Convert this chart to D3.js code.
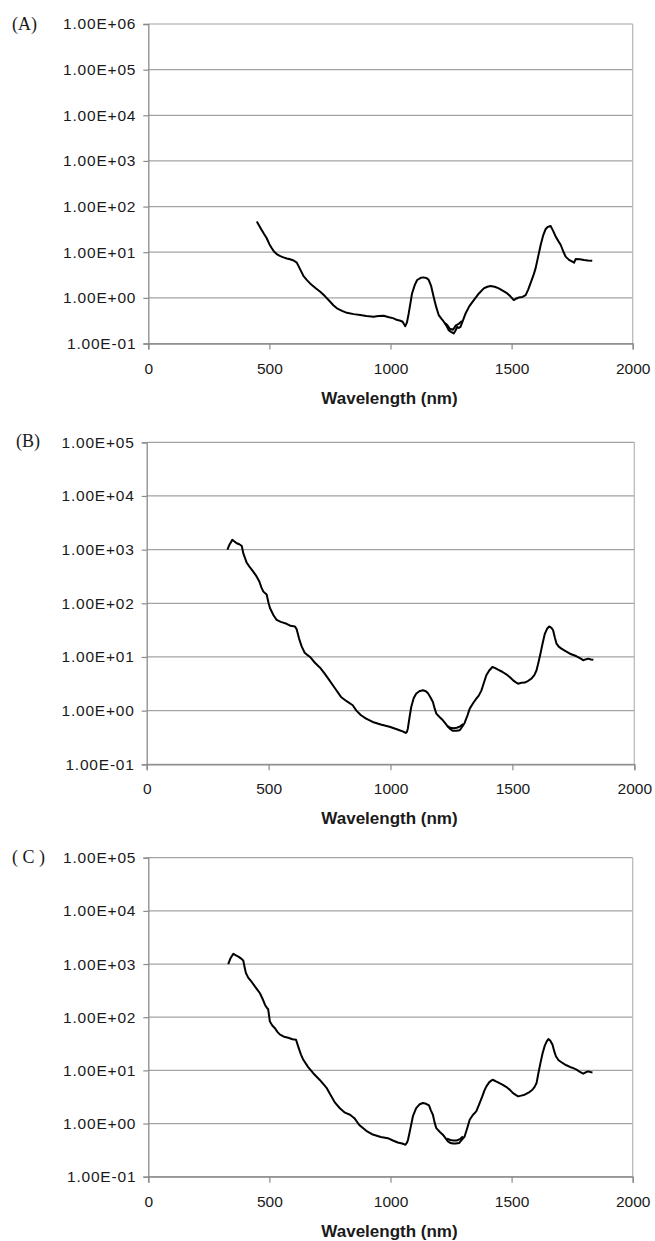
<!DOCTYPE html>
<html>
<head>
<meta charset="utf-8">
<script src="https://cdn.jsdelivr.net/npm/d3@7"></script>
<style>
  body { margin: 0; background: #fff; }
  svg { display: block; }
</style>
</head>
<body>
<svg id="chart"></svg>
<script>
// spectra: wavelength (nm) and value (log axis)
const xTicks = [0, 500, 1000, 1500, 2000];
const yTicksA = [1e-1, 1e0, 1e1, 1e2, 1e3, 1e4, 1e5, 1e6];
const yTicksBC = [1e-1, 1e0, 1e1, 1e2, 1e3, 1e4, 1e5];
const panelLabels = ["(A)", "(B)", "( C )"];
const axisTitle = "Wavelength (nm)";

const wavelengthA = [448, 458, 468, 478, 489, 500, 510, 520, 530, 545, 558, 572, 585, 600, 613, 627, 641, 655, 668, 690,
  710, 730, 751, 765, 779, 800, 820, 848, 875, 900, 930, 950, 972, 990, 1013, 1025, 1041, 1050, 1055, 1061,
  1068, 1075, 1082, 1089, 1100, 1110, 1125, 1137, 1150, 1158, 1168, 1178, 1188, 1199, 1210, 1220, 1230, 1240, 1250, 1261,
  1268, 1275, 1282, 1289, 1300, 1310, 1325, 1344, 1365, 1385, 1400, 1413, 1430, 1447, 1465, 1482, 1495, 1509, 1520, 1530,
  1545, 1558, 1568, 1578, 1590, 1599, 1610, 1620, 1630, 1640, 1650, 1661, 1672, 1682, 1693, 1703, 1713, 1723, 1737, 1751,
  1758, 1765, 1782, 1799, 1815, 1833];
const valueA = [46.9, 38, 30.8, 25, 20.2, 15, 12.2, 10.2, 9.1, 8.2, 7.7, 7.3, 7.0, 6.6, 5.9, 4.2, 3.0, 2.45, 2.07, 1.65,
  1.36, 1.08, 0.82, 0.68, 0.59, 0.52, 0.47, 0.44, 0.42, 0.40, 0.385, 0.40, 0.405, 0.38, 0.355, 0.33, 0.315, 0.30, 0.27, 0.24,
  0.29, 0.45, 0.75, 1.25, 1.9, 2.46, 2.75, 2.81, 2.7, 2.46, 1.8, 1.06, 0.65, 0.42, 0.35, 0.30, 0.25, 0.196, 0.18, 0.166,
  0.19, 0.23, 0.22, 0.232, 0.33, 0.456, 0.65, 0.895, 1.25, 1.61, 1.75, 1.82, 1.75, 1.61, 1.42, 1.25, 1.08, 0.895, 0.97, 1.02,
  1.05, 1.15, 1.5, 2.07, 3.1, 4.43, 8.2, 14.4, 23, 31.8, 36, 37.7, 29, 22, 17.5, 14.4, 10.5, 8.0, 6.8, 6.2,
  5.9, 7.1, 7.0, 6.75, 6.6, 6.5];
// second scan, only where it separates from the first one
const wavelengthA2 = [1225, 1235, 1245, 1258, 1270, 1282, 1295];
const valueA2 = [0.28, 0.25, 0.21, 0.20, 0.25, 0.27, 0.31];

const wavelengthB = [331, 340, 351, 360, 369, 380, 390, 396, 403, 410, 423, 437, 450, 462, 470, 478, 485, 492, 500, 506,
  520, 533, 550, 574, 590, 608, 615, 625, 636, 648, 660, 670, 690, 711, 730, 749, 770, 797, 820, 845,
  860, 879, 900, 927, 960, 996, 1020, 1037, 1050, 1062, 1067, 1071, 1078, 1085, 1095, 1105, 1118, 1133, 1145, 1153,
  1163, 1174, 1181, 1188, 1200, 1215, 1225, 1236, 1246, 1256, 1270, 1284, 1294, 1304, 1315, 1325, 1340, 1352, 1362, 1373,
  1383, 1393, 1405, 1418, 1430, 1441, 1458, 1475, 1490, 1503, 1513, 1523, 1537, 1551, 1565, 1578, 1590, 1599, 1607, 1615,
  1624, 1633, 1643, 1651, 1660, 1667, 1674, 1681, 1690, 1701, 1718, 1736, 1750, 1763, 1777, 1790, 1800, 1811, 1822, 1832];
const valueB = [1000, 1250, 1520, 1420, 1315, 1260, 1170, 860, 700, 573, 470, 390, 320, 255, 200, 167, 155, 146, 100, 81,
  60, 49, 45, 41.5, 38, 37, 33, 22, 15.6, 12, 10.8, 10, 7.8, 6.3, 4.9, 3.7, 2.7, 1.8, 1.5, 1.26,
  1.0, 0.82, 0.71, 0.615, 0.55, 0.50, 0.46, 0.43, 0.41, 0.384, 0.40, 0.46, 0.75, 1.17, 1.7, 2.07, 2.3, 2.39, 2.3, 2.13,
  1.8, 1.45, 1.1, 0.88, 0.77, 0.66, 0.58, 0.50, 0.45, 0.42, 0.42, 0.43, 0.50, 0.59, 0.80, 1.09, 1.4, 1.67, 1.9, 2.39,
  3.3, 4.55, 5.6, 6.5, 6.2, 5.8, 5.3, 4.75, 4.2, 3.67, 3.4, 3.18, 3.3, 3.33, 3.6, 3.95, 4.6, 5.65, 8.0, 11.5,
  18, 27, 34, 37, 35, 31.4, 23, 17.7, 15.6, 14.3, 12.8, 11.5, 10.9, 10.3, 9.5, 8.7, 9.0, 9.3, 9.0, 8.9];
const wavelengthB2 = [1232, 1245, 1258, 1272, 1286, 1298];
const valueB2 = [0.52, 0.48, 0.47, 0.48, 0.51, 0.56];

const wavelengthC = [330, 340, 351, 362, 372, 382, 392, 397, 403, 413, 427, 440, 450, 461, 472, 482, 490, 495, 502, 512,
  523, 533, 544, 560, 578, 595, 610, 619, 630, 640, 660, 681, 708, 737, 748, 770, 791, 812, 833, 851,
  871, 900, 927, 960, 989, 1010, 1030, 1048, 1062, 1067, 1072, 1077, 1081, 1093, 1106, 1120, 1134, 1147, 1159, 1167,
  1175, 1182, 1189, 1203, 1217, 1227, 1237, 1248, 1258, 1270, 1283, 1295, 1306, 1316, 1327, 1340, 1354, 1366, 1379, 1388,
  1396, 1408, 1421, 1433, 1444, 1462, 1479, 1493, 1506, 1517, 1527, 1540, 1554, 1570, 1586, 1595, 1603, 1611, 1619, 1628,
  1637, 1645, 1652, 1660, 1669, 1676, 1683, 1694, 1706, 1724, 1741, 1755, 1768, 1782, 1796, 1806, 1816, 1825, 1834];
const valueC = [1000, 1300, 1560, 1450, 1380, 1280, 1170, 900, 676, 550, 460, 380, 330, 282, 220, 170, 150, 141, 83, 70,
  62, 53, 47, 43, 41, 38.5, 37.6, 28, 20, 15.8, 11.5, 8.85, 6.6, 4.62, 3.74, 2.5, 1.94, 1.6, 1.46, 1.26,
  0.94, 0.73, 0.62, 0.56, 0.53, 0.48, 0.44, 0.42, 0.40, 0.43, 0.49, 0.62, 0.76, 1.4, 1.95, 2.3, 2.43, 2.35, 2.19, 1.75,
  1.46, 1.05, 0.82, 0.70, 0.61, 0.53, 0.46, 0.43, 0.42, 0.42, 0.43, 0.50, 0.57, 0.80, 1.18, 1.45, 1.69, 2.3, 3.24, 4.2,
  5.0, 6.0, 6.67, 6.3, 5.94, 5.4, 4.85, 4.3, 3.74, 3.45, 3.24, 3.35, 3.48, 3.8, 4.32, 4.9, 5.77, 9, 13.7, 21,
  29.2, 35, 38.9, 36, 30.4, 23, 18.4, 15.5, 14.2, 12.6, 11.6, 11, 10.3, 9.4, 8.65, 9.2, 9.57, 9.3, 9.16];
const wavelengthC2 = [1233, 1247, 1260, 1273, 1287, 1299];
const valueC2 = [0.52, 0.49, 0.48, 0.48, 0.51, 0.57];

const width = 655, height = 1241;
const svg = d3.select("#chart").attr("width", width).attr("height", height);

// plot box of each panel, in page pixels
const panels = [
  {label: panelLabels[0], top: 24, bottom: 343.5, left: 148.3, right: 632.7, yTicks: yTicksA,
    labelX: 12, labelY: 30,
    scans: [[wavelengthA, valueA], [wavelengthA2, valueA2]]},
  {label: panelLabels[1], top: 442.3, bottom: 764.3, left: 146.7, right: 634.3, yTicks: yTicksBC,
    labelX: 16, labelY: 447,
    scans: [[wavelengthB, valueB], [wavelengthB2, valueB2]]},
  {label: panelLabels[2], top: 857.7, bottom: 1176.7, left: 148.3, right: 632.7, yTicks: yTicksBC,
    labelX: 12, labelY: 863,
    scans: [[wavelengthC, valueC], [wavelengthC2, valueC2]]}
];

function sciLabel(d) {
  const e = Math.round(Math.log10(d));
  return "1.00E" + (e < 0 ? "-" : "+") + String(Math.abs(e)).padStart(2, "0");
}

function drawPanel(p) {
  const x = d3.scaleLinear().domain([0, 2000]).range([p.left, p.right]);
  const y = d3.scaleLog()
    .domain([p.yTicks[0], p.yTicks[p.yTicks.length - 1]])
    .range([p.bottom, p.top]);

  const g = svg.append("g");

  // horizontal gridlines
  g.selectAll(".grid")
    .data(p.yTicks)
    .enter()
    .append("line")
    .attr("x1", p.left).attr("x2", p.right)
    .attr("y1", d => y(d)).attr("y2", d => y(d))
    .attr("stroke", "#a3a3a3")
    .attr("stroke-width", 1.2);

  // right frame line
  g.append("line")
    .attr("x1", p.right).attr("x2", p.right)
    .attr("y1", p.top).attr("y2", p.bottom)
    .attr("stroke", "#b5b5b5")
    .attr("stroke-width", 1.2);

  const yAxis = g.append("g")
    .attr("transform", `translate(${p.left},0)`)
    .call(d3.axisLeft(y).tickValues(p.yTicks).tickFormat(sciLabel).tickSize(5).tickPadding(7));

  const xAxis = g.append("g")
    .attr("transform", `translate(0,${p.bottom})`)
    .call(d3.axisBottom(x).tickValues(xTicks).tickFormat(d3.format("d")).tickSize(6).tickPadding(13));

  [yAxis, xAxis].forEach(a => {
    a.select(".domain").attr("stroke", "#8a8a8a").attr("stroke-width", 1.3);
    a.selectAll(".tick line").attr("stroke", "#8a8a8a").attr("stroke-width", 1.2);
    a.selectAll("text")
      .attr("fill", "#1a1a1a")
      .style("font-family", "Liberation Sans, Arial, sans-serif")
      .style("font-size", "15.5px");
  });
  yAxis.selectAll("text").style("letter-spacing", "0.8px");

  // axis title
  g.append("text")
    .attr("x", (p.left + p.right) / 2 - 1)
    .attr("y", p.bottom + 60)
    .attr("text-anchor", "middle")
    .attr("fill", "#1a1a1a")
    .style("font-family", "Liberation Sans, Arial, sans-serif")
    .style("font-weight", "bold")
    .style("font-size", "17px")
    .text(axisTitle);

  // panel letter
  g.append("text")
    .attr("x", p.labelX)
    .attr("y", p.labelY)
    .attr("fill", "#1a1a1a")
    .style("font-family", "Liberation Serif, Times New Roman, serif")
    .style("font-size", "18px")
    .style("white-space", "pre")
    .text(p.label);

  const line = d3.line()
    .x(d => x(d[0]))
    .y(d => y(d[1]));

  p.scans.forEach(([wl, val]) => {
    g.append("path")
      .datum(wl.map((w, i) => [w, val[i]]))
      .attr("d", line)
      .attr("fill", "none")
      .attr("stroke", "#000")
      .attr("stroke-width", 2)
      .attr("stroke-linejoin", "round");
  });
}

panels.forEach(drawPanel);
</script>
</body>
</html>
